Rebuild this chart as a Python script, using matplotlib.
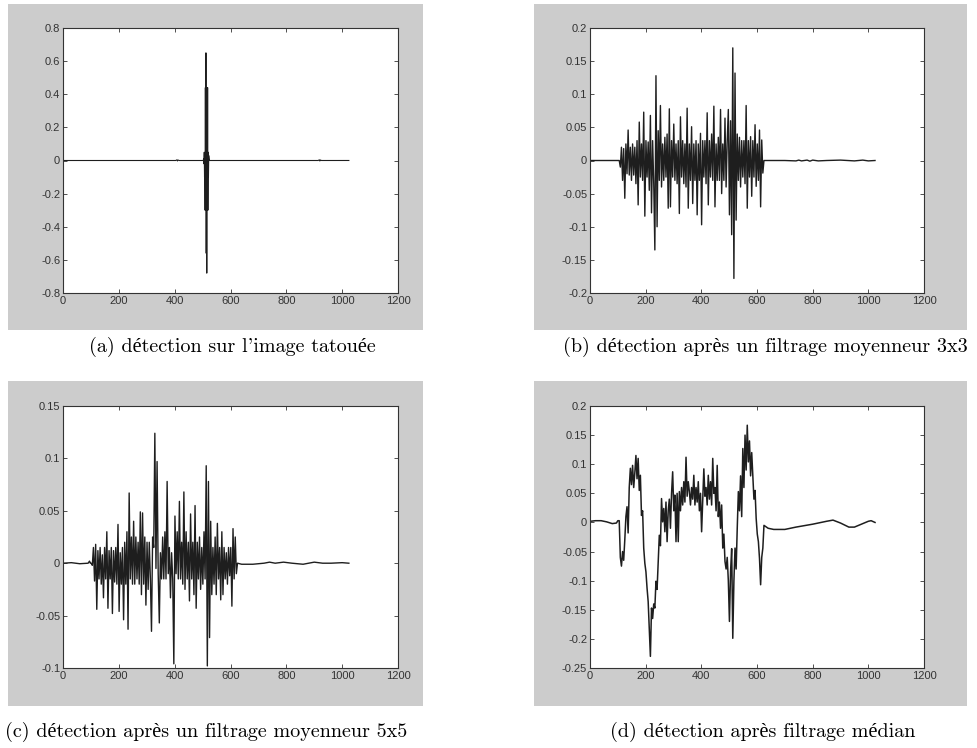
import numpy as np
import matplotlib
matplotlib.use("Agg")
import matplotlib.pyplot as plt
from matplotlib.patches import Rectangle

# ---- data (sample index vs detector response) ----

# (a) watermarked image: flat, one spike near 512
a_x = [1, 404, 408, 410, 412, 416, 502, 504, 505, 506, 507, 508, 509, 510, 511,
       512, 513, 514, 515, 516, 517, 518, 519, 520, 521, 522, 524,
       914, 918, 920, 922, 926, 1024]
a_y = [0.0, 0.0, 0.004, -0.003, 0.003, 0.0, 0.0, 0.01, -0.02, 0.05, -0.1, 0.04,
       -0.3, 0.44, -0.3, 0.65, -0.56, 0.44, -0.68, 0.42, -0.3, 0.44, -0.3, 0.05,
       -0.1, 0.03, 0.0, 0.0, 0.004, -0.003, 0.003, 0.0, 1e-4]

# (b) 3x3 mean filter: noisy part sampled every 4 from 105 to 625
b_start = 105
b_step = 4
b_noise = [
    0.000, -0.010, 0.020, -0.030, 0.018, -0.057, 0.025, -0.020, 0.046, -0.022,
    0.020, -0.030, 0.025, -0.022, 0.020, -0.035, 0.030, -0.067, 0.058, -0.025,
    0.025, -0.030, 0.073, -0.084, 0.030, -0.025, 0.028, -0.045, 0.068, -0.079,
    0.030, -0.035, -0.135, 0.128, -0.100, 0.045, -0.030, 0.083, -0.040, 0.025,
    -0.030, 0.035, -0.025, 0.040, -0.072, 0.078, -0.070, 0.030, -0.025, 0.055,
    -0.030, 0.025, -0.035, 0.030, -0.080, 0.066, -0.025, 0.030, -0.035, 0.025,
    -0.040, 0.079, -0.072, 0.025, -0.030, 0.051, -0.065, 0.025, -0.030, 0.030,
    -0.082, 0.025, -0.030, 0.041, -0.097, 0.030, -0.025, 0.030, -0.035, 0.072,
    -0.067, 0.030, -0.025, 0.040, -0.030, 0.082, -0.070, 0.025, -0.030, 0.035,
    -0.030, 0.077, -0.050, 0.025, -0.030, 0.064, -0.040, 0.030, 0.077, -0.082,
    0.060, -0.112, 0.170, -0.178, 0.132, -0.090, 0.040, -0.030, 0.035, -0.040,
    0.030, -0.025, 0.030, -0.035, 0.083, -0.072, 0.030, -0.025, 0.036, -0.054,
    0.030, -0.025, 0.054, -0.039, 0.025, -0.030, 0.046, -0.070, 0.031, -0.019,
    0.000]
b_head_x = [1, 60, 101]
b_head_y = [0.0, 0.0, 0.0]
b_tail_x = [640, 700, 740, 750, 760, 780, 790, 800, 820, 850, 900, 950, 980, 1000, 1024]
b_tail_y = [0.0, 0.0, -0.0006, 0.0006, -0.0006, 0.0006, -0.001, 0.0006, -0.0006,
            0.0, 0.0006, -0.0006, 0.0006, -0.0006, 0.0]

# (c) 5x5 mean filter: noisy part sampled every 4 from 101 to 625
c_start = 101
c_step = 4
c_noise = [
    0.000, -0.002, 0.015, -0.017, 0.018, -0.044, 0.012, -0.015, 0.015, -0.020,
    0.008, -0.033, 0.015, -0.015, 0.030, -0.043, 0.012, -0.015, 0.015, -0.048,
    0.012, -0.018, 0.015, -0.020, 0.037, -0.046, 0.010, -0.020, 0.015, -0.054,
    0.020, -0.020, 0.030, -0.063, 0.067, -0.015, 0.025, -0.020, 0.040, -0.020,
    0.025, -0.015, 0.020, -0.020, 0.049, -0.030, 0.048, -0.020, 0.025, -0.040,
    0.020, -0.025, 0.020, -0.015, -0.065, 0.025, 0.015, 0.124, -0.005, 0.097,
    -0.010, -0.057, 0.010, -0.015, 0.025, -0.015, 0.030, -0.015, 0.078, -0.010,
    0.015, -0.033, 0.010, -0.015, -0.096, 0.045, -0.010, 0.030, -0.015, 0.059,
    -0.015, 0.020, -0.020, 0.068, -0.025, 0.030, -0.015, 0.020, -0.036, 0.047,
    -0.015, 0.020, -0.030, 0.055, -0.043, 0.020, -0.015, 0.025, -0.025, 0.015,
    -0.020, 0.030, -0.015, 0.093, -0.098, 0.078, -0.071, 0.040, -0.030, 0.015,
    -0.020, 0.025, -0.030, 0.038, -0.015, 0.015, -0.035, 0.030, -0.030, 0.015,
    -0.015, 0.010, -0.020, 0.015, -0.012, 0.015, -0.041, 0.033, -0.015, 0.025,
    -0.010, 0.000]
c_head_x = [1, 30, 60, 90, 95, 98]
c_head_y = [0.0, 0.0005, -0.0005, 0.0, 0.002, 0.0]
c_tail_x = [640, 680, 720, 740, 760, 790, 820, 860, 880, 900, 930, 960, 1000, 1024]
c_tail_y = [-0.001, -0.001, 0.0, 0.001, 0.0, 0.001, 0.0, -0.001, 0.0, 0.001,
            0.0, 0.0, 0.0005, 0.0]

# (d) median filter: noisy part sampled every 4 from 105 to 625
d_start = 105
d_step = 4
d_noise = [
    0.003, -0.060, -0.075, -0.050, -0.065, -0.030, 0.010, 0.027, -0.018, 0.060,
    0.093, 0.065, 0.098, 0.060, 0.085, 0.115, 0.075, 0.110, 0.055, 0.081,
    0.012, 0.020, -0.044, -0.070, -0.085, -0.113, -0.136, -0.181, -0.230, -0.147,
    -0.165, -0.140, -0.147, -0.101, -0.115, -0.070, -0.022, -0.040, 0.041, 0.001,
    0.024, -0.016, 0.035, -0.033, 0.020, 0.040, -0.010, 0.050, 0.087, 0.020,
    0.047, -0.033, 0.050, -0.033, 0.053, 0.020, 0.060, 0.030, 0.070, 0.035,
    0.112, 0.045, 0.070, 0.053, 0.030, 0.060, 0.040, 0.081, 0.030, 0.060,
    0.035, 0.070, 0.020, 0.050, -0.016, 0.040, 0.092, 0.045, 0.060, 0.030,
    0.081, 0.040, 0.070, 0.030, 0.110, 0.050, 0.060, 0.020, 0.098, 0.010,
    0.035, -0.010, 0.030, -0.044, -0.020, -0.067, -0.080, -0.060, -0.100, -0.170,
    -0.085, -0.045, -0.199, -0.101, -0.044, -0.080, -0.010, 0.053, 0.020, 0.080,
    0.010, 0.127, 0.060, 0.150, 0.090, 0.167, 0.104, 0.140, 0.080, 0.120,
    0.081, 0.040, 0.055, 0.007, -0.020, -0.033, -0.062, -0.107, -0.060, -0.044,
    -0.005]
d_head_x = [1, 20, 40, 60, 80, 95, 100]
d_head_y = [0.002, 0.003, 0.003, 0.001, -0.002, -0.001, 0.003]
d_tail_x = [640, 660, 700, 740, 800, 850, 873, 900, 930, 950, 970, 1000, 1010, 1024]
d_tail_y = [-0.010, -0.012, -0.012, -0.008, -0.003, 0.002, 0.004, -0.001, -0.008,
            -0.008, -0.004, 0.002, 0.003, 0.0]

xticks = [0, 200, 400, 600, 800, 1000, 1200]
a_yticks = [-0.8, -0.6, -0.4, -0.2, 0, 0.2, 0.4, 0.6, 0.8]
a_ylabels = ['-0.8', '-0.6', '-0.4', '-0.2', '0', '0.2', '0.4', '0.6', '0.8']
b_yticks = [-0.2, -0.15, -0.1, -0.05, 0, 0.05, 0.1, 0.15, 0.2]
b_ylabels = ['-0.2', '-0.15', '-0.1', '-0.05', '0', '0.05', '0.1', '0.15', '0.2']
c_yticks = [-0.1, -0.05, 0, 0.05, 0.1, 0.15]
c_ylabels = ['-0.1', '-0.05', '0', '0.05', '0.1', '0.15']
d_yticks = [-0.25, -0.2, -0.15, -0.1, -0.05, 0, 0.05, 0.1, 0.15, 0.2]
d_ylabels = ['-0.25', '-0.2', '-0.15', '-0.1', '-0.05', '0', '0.05', '0.1', '0.15', '0.2']

captions = ["(a) détection sur l'image tatouée",
            "(b) détection après un filtrage moyenneur 3x3",
            "(c) détection après un filtrage moyenneur 5x5",
            "(d) détection après filtrage médian"]


def build(head_x, head_y, start, step, noise, tail_x, tail_y):
    nx = start + step * np.arange(len(noise))
    x = np.concatenate([head_x, nx, tail_x])
    y = np.concatenate([head_y, noise, tail_y])
    return x, y


W, H = 977, 748
fig = plt.figure(figsize=(W / 100, H / 100), dpi=100)
fig.patch.set_facecolor('white')

# grey MATLAB figure backgrounds (pixel boxes: left, top, right, bottom)
for l, t, r, b in [(8, 4, 423, 330), (534, 4, 967, 330),
                   (8, 381, 423, 706), (534, 381, 967, 706)]:
    fig.patches.append(Rectangle((l / W, 1 - b / H), (r - l) / W, (b - t) / H,
                                 transform=fig.transFigure, facecolor='#cccccc',
                                 edgecolor='none', zorder=-10))

boxes = [(63, 28, 398, 293), (590, 28, 924, 293),
         (63, 406, 398, 668), (590, 406, 924, 668)]

series = [
    (np.array(a_x), np.array(a_y)),
    build(b_head_x, b_head_y, b_start, b_step, b_noise, b_tail_x, b_tail_y),
    build(c_head_x, c_head_y, c_start, c_step, c_noise, c_tail_x, c_tail_y),
    build(d_head_x, d_head_y, d_start, d_step, d_noise, d_tail_x, d_tail_y),
]
yt = [(a_yticks, a_ylabels), (b_yticks, b_ylabels),
      (c_yticks, c_ylabels), (d_yticks, d_ylabels)]
widths = [0.8, 1.0, 1.0, 1.1]

for (l, t, r, b), (x, y), (ticks, labels), lw in zip(boxes, series, yt, widths):
    ax = fig.add_axes([l / W, 1 - b / H, (r - l) / W, (b - t) / H])
    ax.set_facecolor('white')
    ax.plot(x, y, color='#1e1e1e', lw=lw)
    ax.set_xlim(0, 1200)
    ax.set_ylim(ticks[0], ticks[-1])
    ax.set_xticks(xticks)
    ax.set_xticklabels([str(v) for v in xticks])
    ax.set_yticks(ticks)
    ax.set_yticklabels(labels)
    ax.tick_params(direction='in', length=3, width=0.6, top=True, right=True,
                   labelsize=8, labelcolor='#333333', color='#333333', pad=2)
    for lab in ax.get_xticklabels() + ax.get_yticklabels():
        lab.set_fontfamily('Liberation Sans')
    for s in ax.spines.values():
        s.set_color('#333333')
        s.set_linewidth(0.8)

cap_pos = [(232, 347), (765, 347), (206, 732), (763, 732)]
for (cx, cy), txt in zip(cap_pos, captions):
    fig.text(cx / W, 1 - cy / H, txt, ha='center', va='center', fontsize=14.5,
             family=['cmr10', 'Liberation Serif'])

fig.savefig('out.png', dpi=100)
